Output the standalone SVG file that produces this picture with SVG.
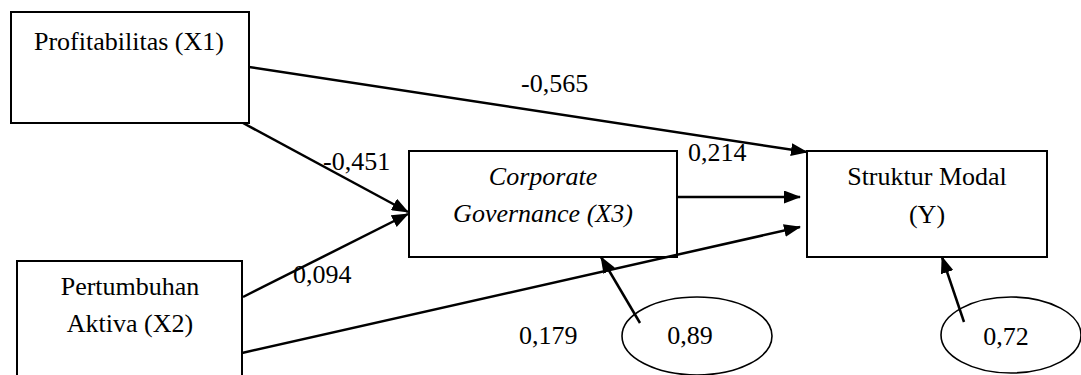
<svg xmlns="http://www.w3.org/2000/svg" width="1081" height="375" viewBox="0 0 1081 375">
<style>
.box{fill:#fff;stroke:#000;stroke-width:2}
.ell{fill:none;stroke:#000;stroke-width:1.6}
.t{font-family:"Liberation Serif","Times New Roman",serif;font-size:26px;fill:#000}
.c{text-anchor:middle}
.i{font-style:italic}
.ln{stroke:#000;stroke-width:2.5;fill:none;marker-end:url(#ah)}
</style>
<defs>
<marker id="ah" markerUnits="userSpaceOnUse" markerWidth="17" markerHeight="13" refX="16" refY="6.5" orient="auto">
<path d="M0,0 L17,6.5 L0,13 z" fill="#000"/>
</marker>
</defs>
<rect width="1081" height="375" fill="#fff"/>
<g id="node-x1">
<rect class="box" x="11" y="12" width="238" height="111"/>
<text class="t" x="34" y="50">Profitabilitas (X1)</text>
</g>
<g id="node-x2">
<rect class="box" x="17" y="261" width="225" height="125"/>
<text class="t c" x="130" y="295">Pertumbuhan</text>
<text class="t c" x="130" y="332">Aktiva (X2)</text>
</g>
<g id="node-x3">
<rect class="box" x="409" y="151" width="268" height="106"/>
<text class="t c i" x="543" y="185">Corporate</text>
<text class="t c i" x="543" y="222">Governance (X3)</text>
</g>
<g id="node-y">
<rect class="box" x="807" y="151" width="240" height="106"/>
<text class="t c" x="927" y="185">Struktur Modal</text>
<text class="t c" x="927" y="223">(Y)</text>
</g>
<g id="node-e1">
<ellipse class="ell" cx="697" cy="336" rx="75" ry="39"/>
<text class="t c" x="690" y="344">0,89</text>
</g>
<g id="node-e2">
<ellipse class="ell" cx="1011" cy="335" rx="70" ry="38"/>
<text class="t c" x="1006" y="345">0,72</text>
</g>
<g id="connectors">
<line class="ln" x1="249" y1="67" x2="807" y2="152"/>
<line class="ln" x1="243" y1="123" x2="408" y2="212"/>
<line class="ln" x1="243" y1="297" x2="408" y2="214"/>
<line class="ln" x1="242" y1="353" x2="800" y2="227"/>
<line class="ln" x1="677" y1="197" x2="800" y2="197"/>
<line class="ln" x1="640" y1="323" x2="601" y2="257"/>
<line class="ln" x1="964" y1="322" x2="942" y2="257"/>
</g>
<g id="labels">
<text class="t" x="521" y="92">-0,565</text>
<text class="t" x="323" y="170">-0,451</text>
<text class="t" x="688" y="161">0,214</text>
<text class="t" x="293" y="283">0,094</text>
<text class="t" x="519" y="344">0,179</text>
</g>
</svg>
